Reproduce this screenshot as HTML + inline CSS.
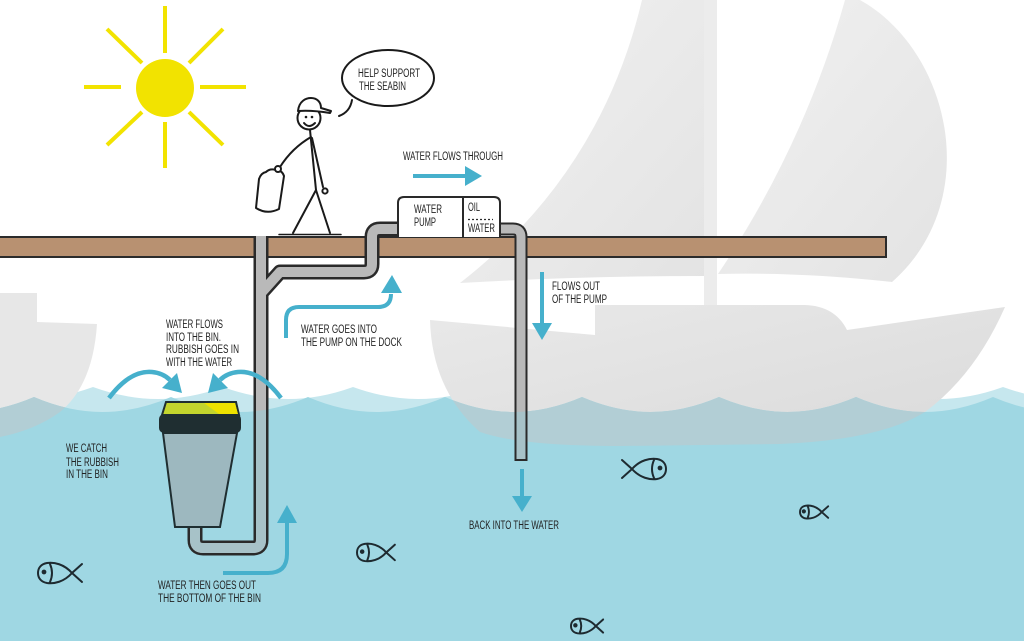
<!DOCTYPE html>
<html><head><meta charset="utf-8"><style>
html,body{margin:0;padding:0;background:#fff;}
svg{display:block;}
text{font-family:"Liberation Sans Narrow","Liberation Sans",sans-serif;font-size:11.5px;fill:#222;}
</style></head><body>
<svg width="1024" height="641" viewBox="0 0 1024 641" xmlns="http://www.w3.org/2000/svg">
<defs>
<linearGradient id="sail" x1="0" y1="0" x2="1" y2="1"><stop offset="0" stop-color="#f1f1f1"/><stop offset="1" stop-color="#e3e3e3"/></linearGradient>
<linearGradient id="hull" x1="0" y1="0" x2="1" y2="1"><stop offset="0" stop-color="#e9e9e9"/><stop offset="1" stop-color="#dadada"/></linearGradient>
<clipPath id="uw"><path d="M-103,397 Q-68,412 -34.5,412 Q-1,412 34,397 Q69,412 102.5,412 Q136,412 171,397 Q206,412 239.5,412 Q273,412 308,397 Q343,412 376.5,412 Q410,412 445,397 Q480,412 513.5,412 Q547,412 582,397 Q617,412 650.5,412 Q684,412 719,397 Q754,412 787.5,412 Q821,412 856,397 Q891,412 924.5,412 Q958,412 993,397 Q1028,412 1061.5,412 Q1095,412 1130,397 L1130,641 L-103,641 Z"/></clipPath>
</defs>
<rect width="1024" height="641" fill="#fff"/>

<!-- back wave layer -->
<path fill="#c6e7ee" d="M-37,387 Q-4,399 28,399 Q60,399 93,387 Q126,399 158,399 Q190,399 223,387 Q256,399 288,399 Q320,399 353,387 Q386,399 418,399 Q450,399 483,387 Q516,399 548,399 Q580,399 613,387 Q646,399 678,399 Q710,399 743,387 Q776,399 808,399 Q840,399 873,387 Q906,399 938,399 Q970,399 1003,387 Q1036,399 1068,399 Q1100,399 1133,387 L1133,641 L-37,641 Z"/>

<!-- boats -->
<path fill="url(#sail)" d="M460,283 Q601,173 642,0 L704,0 L704,276 Q580,276 460,283 Z"/>
<path fill="url(#sail)" d="M845,0 L860,0 C950,50 985,200 892,282 Q800,272 718,274 Q804,146 845,0 Z"/>
<rect x="704" y="0" width="13" height="308" fill="#ececec"/>
<path id="bighull" fill="url(#hull)" d="M430,320 L595,335 L595,305 L805,305 Q835,306 847,330 L1005,307 Q975,375 925,412 Q880,440 780,444 L620,446 Q520,446 480,432 Q432,390 430,320 Z"/>
<path fill="#e7e7e7" d="M0,293 L37,293 L37,322 L97,324 Q93,385 60,412 Q35,430 0,437 Z"/>

<!-- front water -->
<path fill="#9fd7e3" d="M-103,397 Q-68,412 -34.5,412 Q-1,412 34,397 Q69,412 102.5,412 Q136,412 171,397 Q206,412 239.5,412 Q273,412 308,397 Q343,412 376.5,412 Q410,412 445,397 Q480,412 513.5,412 Q547,412 582,397 Q617,412 650.5,412 Q684,412 719,397 Q754,412 787.5,412 Q821,412 856,397 Q891,412 924.5,412 Q958,412 993,397 Q1028,412 1061.5,412 Q1095,412 1130,397 L1130,641 L-103,641 Z"/>
<g clip-path="url(#uw)" fill="#b2ced5">
<path d="M430,320 L595,335 L595,305 L805,305 Q835,306 847,330 L1005,307 Q975,375 925,412 Q880,440 780,444 L620,446 Q520,446 480,432 Q432,390 430,320 Z"/>
<path d="M0,293 L37,293 L37,322 L97,324 Q93,385 60,412 Q35,430 0,437 Z"/>
</g>

<!-- dock -->
<rect x="-3" y="237" width="889" height="20" fill="#b89171" stroke="#2b2b2b" stroke-width="2"/>

<!-- pipes -->
<g fill="none" stroke-linejoin="round">
<path stroke="#2a2a2a" stroke-width="15" d="M261,236 L261,540 Q261,548 253,548 L203,548 Q195,548 195,540 L195,526"/>
<path stroke="#2a2a2a" stroke-width="15" d="M262,292 L280,272 L364,272 Q372,272 372,264 L372,237 Q372,229 380,229 L399,229"/>
<path stroke="#2a2a2a" stroke-width="13" d="M499,229 L513,229 Q521,229 521,237 L521,461"/>
<path stroke="#b9b9b9" stroke-width="10" d="M261,236 L261,540 Q261,548 253,548 L203,548 Q195,548 195,540 L195,526"/>
<path stroke="#b9b9b9" stroke-width="10" d="M262,292 L280,272 L364,272 Q372,272 372,264 L372,237 Q372,229 380,229 L399,229"/>
<path stroke="#b9b9b9" stroke-width="9" d="M499,229 L513,229 Q521,229 521,237 L521,459"/>
<g clip-path="url(#uw)">
<path stroke="#a7c2c8" stroke-width="10" d="M261,236 L261,540 Q261,548 253,548 L203,548 Q195,548 195,540 L195,526"/>
<path stroke="#a7c2c8" stroke-width="9" d="M521,237 L521,459"/>
</g>
</g>

<!-- pump -->
<path d="M398,237 L398,203 Q398,197 404,197 L494,197 Q500,197 500,203 L500,237" fill="#fff" stroke="#2a2a2a" stroke-width="2"/>
<line x1="463" y1="197" x2="463" y2="237" stroke="#2a2a2a" stroke-width="2"/>
<line x1="468" y1="219.5" x2="493" y2="219.5" stroke="#2a2a2a" stroke-width="1.2" stroke-dasharray="2,2"/>

<!-- bin -->
<polygon points="163,433 237,433 220,527 175,527" fill="#9db8bf" stroke="#1f2e31" stroke-width="2"/>
<polygon points="166,402 236,402 239,415 162,415" fill="#c3d52d" stroke="#1f2e31" stroke-width="2"/>
<polygon points="204,403 235,403 238,414 219,414" fill="#eee200"/>
<rect x="159" y="414" width="82" height="19" rx="5" fill="#1f2e31"/>

<!-- arrows -->
<g fill="#46b0cc">
<line x1="413" y1="176" x2="467" y2="176" stroke="#46b0cc" stroke-width="4"/>
<polygon points="465,166 465,186 482,176"/>
<line x1="542" y1="272" x2="542" y2="325" stroke="#46b0cc" stroke-width="4"/>
<polygon points="532,323 552,323 542,340"/>
<line x1="522" y1="469" x2="522" y2="498" stroke="#46b0cc" stroke-width="4"/>
<polygon points="512,496 532,496 522,512"/>
<path d="M286,338 L286,320 Q286,307 299,307 L378,307 Q391,307 391,294" fill="none" stroke="#46b0cc" stroke-width="4"/>
<polygon points="381,293 402,293 392,275"/>
<path d="M223,573 L268,573 Q287,573 287,554 L287,522" fill="none" stroke="#46b0cc" stroke-width="4"/>
<polygon points="277,523 297,523 287,505"/>
<path d="M109,398 Q130,370 152,372 Q163,373 170,380" fill="none" stroke="#46b0cc" stroke-width="4.5"/>
<polygon points="177,373 162,388 182,393"/>
<path d="M281,398 Q260,370 238,372 Q227,373 220,380" fill="none" stroke="#46b0cc" stroke-width="4.5"/>
<polygon points="213,373 228,388 208,393"/>
</g>

<!-- sun -->
<g stroke="#f2e300" stroke-width="4">
<line x1="165" y1="6" x2="165" y2="53"/>
<line x1="165" y1="122" x2="165" y2="168"/>
<line x1="84" y1="87" x2="121" y2="87"/>
<line x1="200" y1="87" x2="246" y2="87"/>
<line x1="107" y1="29" x2="142" y2="63"/>
<line x1="189" y1="63" x2="223" y2="29"/>
<line x1="107" y1="145" x2="142" y2="112"/>
<line x1="189" y1="112" x2="223" y2="145"/>
</g>
<circle cx="165" cy="88" r="29" fill="#f2e300"/>

<!-- person -->
<g fill="none" stroke="#1a1a1a" stroke-width="2" stroke-linecap="round" stroke-linejoin="round">
<path d="M310,130 L316,190"/>
<path d="M312,138 L323,187"/>
<path d="M311,137 Q292,148 280,167"/>
<path d="M316,190 L293,233 M316,190 L330,233"/>
<path d="M279,234.5 L341,234.5" stroke-width="1.5"/>
<path d="M259,179 L256,208 Q267,215 279,209 L284,176 Q282,170 276,170 Q270,168 266,172 Q261,173 259,179 Z" fill="#fff"/>
<circle cx="278" cy="169" r="3" fill="#fff"/>
<circle cx="325" cy="191" r="2.6" fill="#fff"/>
<circle cx="309" cy="118" r="11.5" fill="#fff"/>
<path d="M298,111 C299,101 306,98 311,98 C317,98 321,102 321,108 L331,111 L330,113 Q312,110 298,111 Z" fill="#fff"/>
<path d="M304,123 Q309,129 315,123"/>
<ellipse cx="388" cy="78" rx="46" ry="28" fill="#fff"/>
<path d="M352,100 Q350,112 339,116"/>
</g>
<circle cx="306" cy="117" r="1.3" fill="#1a1a1a"/>
<circle cx="312" cy="117" r="1.3" fill="#1a1a1a"/>

<!-- fish -->
<g fill="none" stroke="#1e2a30" stroke-linecap="round">
<g transform="translate(38,562)" stroke-width="2"><path d="M34,11 C26,2 16,0 9,1 C3,2 0,6 0,11 C0,16 3,20 9,21 C16,22 26,20 34,11 L44,2 M34,11 L44,20 M12,2 Q16,11 12,20"/><circle cx="6" cy="10" r="1.4" fill="#1e2a30"/></g>
<g transform="translate(357,543) scale(0.86)" stroke-width="2.3"><path d="M34,11 C26,2 16,0 9,1 C3,2 0,6 0,11 C0,16 3,20 9,21 C16,22 26,20 34,11 L44,2 M34,11 L44,20 M12,2 Q16,11 12,20"/><circle cx="6" cy="10" r="1.5" fill="#1e2a30"/></g>
<g transform="translate(666,458) scale(-1,1)" stroke-width="2"><path d="M34,11 C26,2 16,0 9,1 C3,2 0,6 0,11 C0,16 3,20 9,21 C16,22 26,20 34,11 L44,2 M34,11 L44,20 M12,2 Q16,11 12,20"/><circle cx="6" cy="10" r="1.4" fill="#1e2a30"/></g>
<g transform="translate(800,505) scale(0.64)" stroke-width="3"><path d="M34,11 C26,2 16,0 9,1 C3,2 0,6 0,11 C0,16 3,20 9,21 C16,22 26,20 34,11 L44,2 M34,11 L44,20 M12,2 Q16,11 12,20"/><circle cx="6" cy="10" r="1.8" fill="#1e2a30"/></g>
<g transform="translate(571,618) scale(0.73)" stroke-width="2.7"><path d="M34,11 C26,2 16,0 9,1 C3,2 0,6 0,11 C0,16 3,20 9,21 C16,22 26,20 34,11 L44,2 M34,11 L44,20 M12,2 Q16,11 12,20"/><circle cx="6" cy="10" r="1.7" fill="#1e2a30"/></g>
</g>

<!-- text -->
<text x="358" y="77" textLength="62" lengthAdjust="spacingAndGlyphs">HELP SUPPORT</text>
<text x="359" y="90" textLength="47" lengthAdjust="spacingAndGlyphs">THE SEABIN</text>
<text x="403" y="160" textLength="100" lengthAdjust="spacingAndGlyphs">WATER FLOWS THROUGH</text>
<text x="414" y="213" textLength="28" lengthAdjust="spacingAndGlyphs">WATER</text>
<text x="414" y="226" textLength="22" lengthAdjust="spacingAndGlyphs">PUMP</text>
<text x="468" y="211" textLength="12" lengthAdjust="spacingAndGlyphs">OIL</text>
<text x="468" y="232" textLength="27" lengthAdjust="spacingAndGlyphs">WATER</text>
<text x="552" y="290" textLength="48" lengthAdjust="spacingAndGlyphs">FLOWS OUT</text>
<text x="552" y="303" textLength="55" lengthAdjust="spacingAndGlyphs">OF THE PUMP</text>
<text x="301" y="333" textLength="76" lengthAdjust="spacingAndGlyphs">WATER GOES INTO</text>
<text x="301" y="346" textLength="101" lengthAdjust="spacingAndGlyphs">THE PUMP ON THE DOCK</text>
<text x="166" y="328" textLength="57" lengthAdjust="spacingAndGlyphs">WATER FLOWS</text>
<text x="166" y="341" textLength="55" lengthAdjust="spacingAndGlyphs">INTO THE BIN.</text>
<text x="166" y="353" textLength="73" lengthAdjust="spacingAndGlyphs">RUBBISH GOES IN</text>
<text x="166" y="366" textLength="66" lengthAdjust="spacingAndGlyphs">WITH THE WATER</text>
<text x="66" y="452" textLength="41" lengthAdjust="spacingAndGlyphs">WE CATCH</text>
<text x="66" y="466" textLength="53" lengthAdjust="spacingAndGlyphs">THE RUBBISH</text>
<text x="66" y="478" textLength="42" lengthAdjust="spacingAndGlyphs">IN THE BIN</text>
<text x="158" y="589" textLength="98" lengthAdjust="spacingAndGlyphs">WATER THEN GOES OUT</text>
<text x="158" y="602" textLength="103" lengthAdjust="spacingAndGlyphs">THE BOTTOM OF THE BIN</text>
<text x="469" y="529" textLength="90" lengthAdjust="spacingAndGlyphs">BACK INTO THE WATER</text>
</svg>
</body></html>
